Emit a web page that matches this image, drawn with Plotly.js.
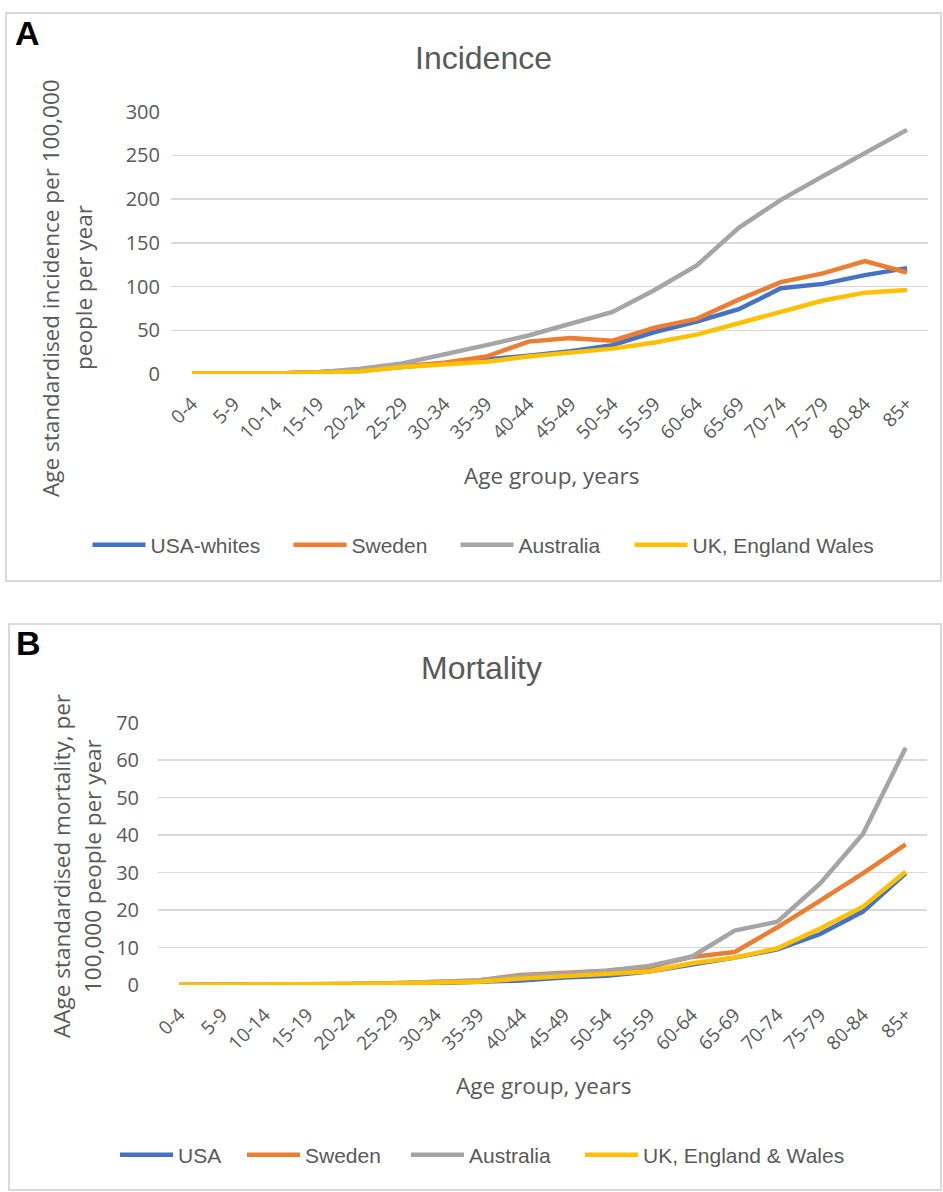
<!DOCTYPE html>
<html>
<head>
<meta charset="utf-8">
<script src="https://cdn.plot.ly/plotly-3.0.1.min.js"></script>
<style>
  html, body { margin: 0; padding: 0; background: #ffffff; }
  #chart { width: 943px; height: 1192px; }
</style>
</head>
<body>
<div id="chart"></div>
<script>
// ---------- data ----------
const ageGroups = ['0-4','5-9','10-14','15-19','20-24','25-29','30-34','35-39','40-44',
                   '45-49','50-54','55-59','60-64','65-69','70-74','75-79','80-84','85+'];

// Panel A: age standardised incidence per 100,000 people per year
const incUSA       = [1, 0.5, 0.5, 2, 4, 8, 12, 16, 21, 26, 33, 48, 60, 74, 98, 103, 113, 121];
const incSweden    = [1, 0.5, 0.5, 2, 4, 9, 13, 20, 37, 41, 38, 53, 63, 85, 105, 115, 129, 116];
const incAustralia = [1, 0.5, 0.5, 2, 6, 12, 22, 33, 44, 57, 71, 96, 124, 167, 199, 226, 253, 279];
const incUK        = [0.5, 0.3, 0.5, 1.5, 3, 8, 11, 14, 20, 24, 29, 36, 45, 58, 71, 84, 93, 96];

// Panel B: age standardised mortality per 100,000 people per year
const morUSA       = [0, 0, 0, 0.1, 0.2, 0.3, 0.5, 0.8, 1.2, 2.0, 2.5, 3.6, 5.3, 7.3, 9.5, 13.6, 19.6, 29.8];
const morSweden    = [0, 0, 0, 0.2, 0.3, 0.5, 0.8, 1.2, 2.7, 3.1, 3.8, 4.8, 7.5, 8.8, 15.4, 22.5, 29.8, 37.5];
const morAustralia = [0, 0, 0, 0.2, 0.3, 0.5, 0.8, 1.2, 2.5, 3.0, 3.8, 5.1, 7.6, 14.5, 16.9, 27.1, 40.3, 63.3];
const morUK        = [0, 0, 0, 0.2, 0.3, 0.4, 0.6, 0.9, 1.7, 2.3, 2.9, 3.6, 5.8, 7.3, 9.8, 15.1, 20.9, 30.2];

const incNames = ['USA-whites', 'Sweden', 'Australia', 'UK, England Wales'];
const morNames = ['USA', 'Sweden', 'Australia', 'UK, England & Wales'];
const incTicks = [0, 50, 100, 150, 200, 250, 300];
const morTicks = [0, 10, 20, 30, 40, 50, 60, 70];

// ---------- styling ----------
const colors = ['#4472C4', '#ED7D31', '#A5A5A5', '#FFC000'];
const incLegendWidths = [133, 99, 106, 192];
const morLegendWidths = [59, 96, 106, 214];
const W = 943, H = 1192;
const px = x => x / W;
const py = y => 1 - y / H;
const txt = '#595959';
const grid = '#d9d9d9';
const sans = 'Open Sans, sans-serif';
const tickFont = {family: sans, size: 19, color: txt};
const plain = 'Liberation Sans, Arial, sans-serif';

const incSeries = [incUSA, incSweden, incAustralia, incUK];
const morSeries = [morUSA, morSweden, morAustralia, morUK];

const traces = [];
incSeries.forEach((ys, i) => traces.push({
  type: 'scatter', mode: 'lines', x: ageGroups, y: ys, name: incNames[i],
  xaxis: 'x', yaxis: 'y', legend: 'legend', legendwidth: incLegendWidths[i],
  line: {color: colors[i], width: 4.5}, hoverinfo: 'skip'
}));
morSeries.forEach((ys, i) => traces.push({
  type: 'scatter', mode: 'lines', x: ageGroups, y: ys, name: morNames[i],
  xaxis: 'x2', yaxis: 'y2', legend: 'legend2', legendwidth: morLegendWidths[i],
  line: {color: colors[i], width: 4.5}, hoverinfo: 'skip'
}));

function xAxis(domain, anchor) {
  return {
    domain: domain, anchor: anchor, type: 'category',
    categoryorder: 'array', categoryarray: ageGroups,
    range: [-0.5, ageGroups.length - 0.5],
    showgrid: false, zeroline: false, showline: false, ticks: '',
    tickangle: -45, tickfont: tickFont, ticklabelstandoff: 14, fixedrange: true
  };
}
function yAxis(domain, anchor, ticks) {
  return {
    domain: domain, anchor: anchor, range: [ticks[0], ticks[ticks.length - 1]],
    tickmode: 'array', tickvals: ticks, ticktext: ticks.map(String),
    showgrid: true, gridcolor: grid, gridwidth: 1.5, zeroline: false,
    showline: false, ticks: '', tickfont: {family: sans, size: 20, color: txt},
    fixedrange: true
  };
}

const xa = xAxis([px(171), px(928)], 'y');
const ya = yAxis([py(374), py(111.5)], 'x', incTicks);
ya.ticklabelstandoff = 10;
const xb = xAxis([px(158), px(927)], 'y2');
const yb = yAxis([py(985), py(722.7)], 'x2', morTicks);
yb.ticklabelstandoff = 18;

const titleFont = {family: sans, size: 22.5, color: txt};
function ann(text, x, y, font, extra) {
  return Object.assign({text: text, xref: 'paper', yref: 'paper', x: px(x), y: py(y),
    xanchor: 'center', yanchor: 'middle', showarrow: false, font: font}, extra || {});
}

const annotations = [
  ann('<b>A</b>', 27, 33, {family: plain, size: 34, color: '#000'}),
  ann('<b>B</b>', 28, 643, {family: plain, size: 34, color: '#000'}),
  ann('Incidence', 483, 58, {family: plain, size: 32, color: txt}),
  ann('Mortality', 482, 668, {family: plain, size: 32, color: txt}),
  ann('Age group, years', 551, 475, titleFont),
  ann('Age group, years', 543, 1085, titleFont),
  ann('Age standardised incidence per 100,000', 50, 288, titleFont, {textangle: -90}),
  ann('people per year', 83, 288, titleFont, {textangle: -90}),
  ann('AAge standardised mortality, per', 61, 866, titleFont, {textangle: -90}),
  ann('100,000 people per year', 92, 866, titleFont, {textangle: -90})
];

const shapes = [
  {type: 'rect', xref: 'paper', yref: 'paper', x0: px(6), x1: px(941), y0: py(581), y1: py(13),
   line: {color: grid, width: 2}},
  {type: 'rect', xref: 'paper', yref: 'paper', x0: px(9), x1: px(941), y0: py(1190), y1: py(624),
   line: {color: grid, width: 2}}
];

const legendFont = {family: plain, size: 21, color: txt};
const layout = {
  width: W, height: H,
  margin: {l: 0, r: 0, t: 0, b: 0},
  paper_bgcolor: '#ffffff', plot_bgcolor: '#ffffff',
  showlegend: true,
  xaxis: xa, yaxis: ya, xaxis2: xb, yaxis2: yb,
  legend: {orientation: 'h', x: px(488.5), xanchor: 'center', y: py(545), yanchor: 'middle',
           font: legendFont, bgcolor: 'rgba(0,0,0,0)', itemwidth: 53, tracegroupgap: 0},
  legend2: {orientation: 'h', x: px(488.5), xanchor: 'center', y: py(1155), yanchor: 'middle',
            font: legendFont, bgcolor: 'rgba(0,0,0,0)', itemwidth: 53, tracegroupgap: 0},
  annotations: annotations,
  shapes: shapes
};

Plotly.newPlot('chart', traces, layout, {displayModeBar: false, staticPlot: true});
</script>
</body>
</html>
